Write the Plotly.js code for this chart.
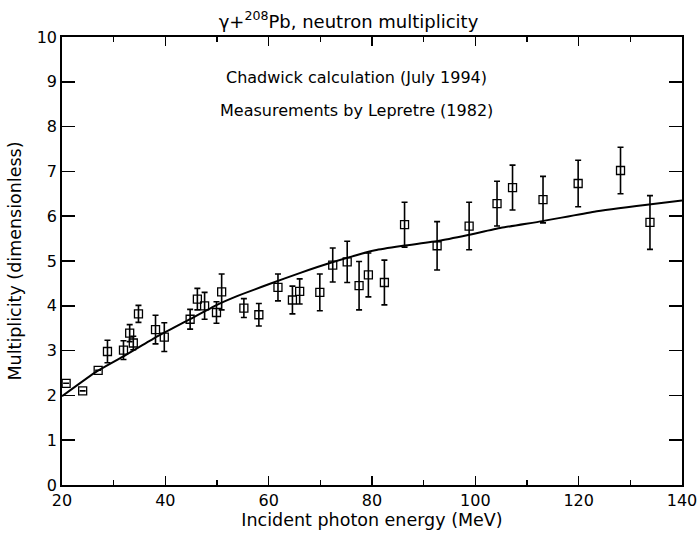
<!DOCTYPE html>
<html>
<head>
<meta charset="utf-8">
<script src="https://cdn.plot.ly/plotly-3.0.1.min.js"></script>
<style>html,body{margin:0;padding:0;background:#fff;}#chart{width:697px;height:539px;}</style>
</head>
<body>
<div id="chart"></div>
<script>
// Measurements (Lepretre 1982)
const energy = [20.8, 24.0, 27.0, 28.8, 31.9, 33.1, 33.8, 34.8, 38.1, 39.8, 44.8, 46.2, 47.6, 49.9, 50.9, 55.2, 58.1, 61.8, 64.6, 66.0, 69.9, 72.4, 75.2, 77.5, 79.3, 82.4, 86.3, 92.6, 98.8, 104.2, 107.2, 113.1, 119.9, 128.1, 133.8];
const multiplicity = [2.27, 2.10, 2.56, 2.98, 3.01, 3.39, 3.17, 3.82, 3.47, 3.30, 3.70, 4.15, 4.00, 3.85, 4.31, 3.95, 3.80, 4.41, 4.13, 4.32, 4.30, 4.91, 4.98, 4.45, 4.69, 4.52, 5.81, 5.34, 5.78, 6.28, 6.64, 6.37, 6.73, 7.02, 5.86];
const errors = [0, 0, 0, 0.25, 0.21, 0.19, 0.15, 0.19, 0.32, 0.32, 0.22, 0.24, 0.30, 0.24, 0.40, 0.21, 0.25, 0.30, 0.31, 0.28, 0.41, 0.38, 0.46, 0.54, 0.49, 0.50, 0.50, 0.54, 0.53, 0.50, 0.50, 0.52, 0.52, 0.52, 0.60];
// Chadwick calculation (July 1994)
const calcEnergy = [20, 26.8, 31.7, 37.9, 44.6, 50, 54, 60, 66, 72, 80.6, 86, 93, 98.6, 105, 113, 123, 133.6, 140];
const calcMult = [1.98, 2.54, 2.86, 3.28, 3.69, 4.02, 4.22, 4.48, 4.73, 4.96, 5.24, 5.34, 5.45, 5.58, 5.74, 5.89, 6.10, 6.26, 6.35];
const xTicks = [20, 40, 60, 80, 100, 120, 140];
const yTicks = [0, 1, 2, 3, 4, 5, 6, 7, 8, 9, 10];

const FONT = 'DejaVu Sans, Liberation Sans, sans-serif';

const traces = [
  {
    x: calcEnergy, y: calcMult, type: 'scatter', mode: 'lines',
    line: {color: '#000', width: 2, shape: 'spline', smoothing: 0.5}, hoverinfo: 'skip', showlegend: false
  },
  {
    x: energy, y: multiplicity, type: 'scatter', mode: 'markers',
    marker: {symbol: 'square-open', size: 8, color: '#000', line: {width: 1.3, color: '#000'}},
    error_y: {type: 'data', array: errors, visible: true, color: '#000', thickness: 1.6, width: 3},
    cliponaxis: false, showlegend: false
  }
];

const layout = {
  width: 697, height: 539,
  margin: {l: 62, r: 15, t: 37, b: 54},
  paper_bgcolor: '#fff', plot_bgcolor: '#fff',
  font: {family: FONT, color: '#000', size: 15},
  title: {
    text: 'γ+<sup>208</sup>Pb, neutron multiplicity',
    font: {family: FONT, size: 18, color: '#000'},
    x: 0.5, xanchor: 'center', y: 0.948, yanchor: 'bottom'
  },
  xaxis: {
    range: [20, 140], tickvals: xTicks, ticktext: xTicks.map(String),
    ticks: 'inside', ticklen: 9, tickwidth: 1.5, tickcolor: '#000',
    minor: {dtick: 10, tick0: 20, ticks: 'inside', ticklen: 5, tickwidth: 1.2, tickcolor: '#000', showgrid: false},
    showline: true, linecolor: '#000', linewidth: 1.8, mirror: 'ticks',
    showgrid: false, zeroline: false, ticklabeloverflow: 'allow',
    tickfont: {family: FONT, size: 16, color: '#000'},
    title: {text: 'Incident photon energy (MeV)', font: {family: FONT, size: 17.5, color: '#000'}, standoff: 2}
  },
  yaxis: {
    range: [0, 10], tickvals: yTicks, ticktext: yTicks.map(String),
    ticks: 'inside', ticklen: 13, tickwidth: 1.5, tickcolor: '#000',
    showline: true, linecolor: '#000', linewidth: 1.8, mirror: 'ticks',
    showgrid: false, zeroline: false,
    tickfont: {family: FONT, size: 16, color: '#000'},
    title: {text: 'Multiplicity (dimensionless)', font: {family: FONT, size: 17.5, color: '#000'}, standoff: 10}
  },
  annotations: [
    {text: 'Chadwick calculation (July 1994)', xref: 'x', yref: 'y', x: 77, y: 9.1, showarrow: false,
     font: {family: FONT, size: 16, color: '#000'}, xanchor: 'center', yanchor: 'middle'},
    {text: 'Measurements by Lepretre (1982)', xref: 'x', yref: 'y', x: 77, y: 8.35, showarrow: false,
     font: {family: FONT, size: 16, color: '#000'}, xanchor: 'center', yanchor: 'middle'}
  ]
};

Plotly.newPlot('chart', traces, layout, {displayModeBar: false, staticPlot: true});
</script>
</body>
</html>
